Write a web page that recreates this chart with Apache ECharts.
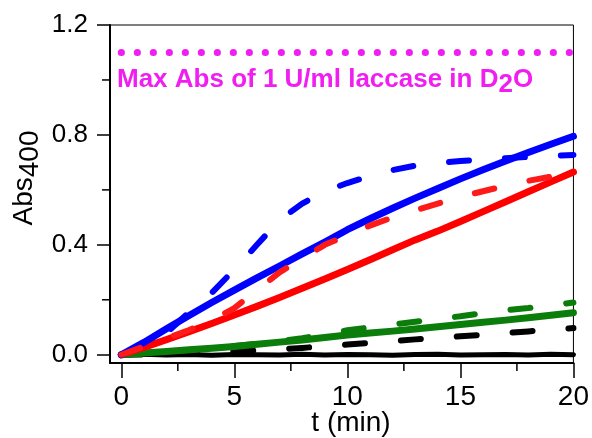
<!DOCTYPE html>
<html>
<head>
<meta charset="UTF-8">
<title>Abs400 vs t</title>
<script src="https://cdn.jsdelivr.net/npm/echarts@6/dist/echarts.min.js"></script>
<style>
  html, body { margin: 0; padding: 0; background: #fff; }
</style>
</head>
<body>
<div id="chart" style="width:592px;height:438px;"></div>
<script type="text/javascript">
// time (min)
var times = [0, 1, 2, 3, 4, 5, 6, 7, 8, 9, 10, 11, 12, 13, 14, 15, 16, 17, 18, 19, 20];

// Abs400
var blueSolid  = [0, 0.045, 0.095, 0.143, 0.19, 0.235, 0.28, 0.323, 0.367, 0.41, 0.455, 0.495, 0.533, 0.57, 0.605, 0.64, 0.673, 0.705, 0.736, 0.766, 0.795];
var blueDashed = [0, 0.04, 0.08, 0.155, 0.225, 0.31, 0.40, 0.49, 0.55, 0.595, 0.625, 0.65, 0.672, 0.688, 0.698, 0.705, 0.71, 0.715, 0.72, 0.724, 0.727];
var redSolid   = [0, 0.027, 0.055, 0.084, 0.114, 0.145, 0.176, 0.208, 0.242, 0.276, 0.31, 0.346, 0.382, 0.418, 0.45, 0.485, 0.521, 0.557, 0.593, 0.629, 0.665];
var redDashed  = [0, 0.03, 0.06, 0.09, 0.125, 0.17, 0.235, 0.30, 0.35, 0.40, 0.435, 0.47, 0.50, 0.525, 0.55, 0.575, 0.595, 0.615, 0.633, 0.648, 0.66];
var greenSolid = [0, 0.006, 0.012, 0.018, 0.024, 0.03, 0.038, 0.046, 0.054, 0.063, 0.072, 0.079, 0.086, 0.094, 0.102, 0.11, 0.118, 0.126, 0.135, 0.144, 0.153];
var greenDashed = [0, 0.005, 0.01, 0.017, 0.025, 0.032, 0.04, 0.05, 0.06, 0.075, 0.089, 0.1, 0.11, 0.12, 0.131, 0.14, 0.152, 0.162, 0.17, 0.18, 0.19];
var blackDashed = [0, 0.001, 0.003, 0.005, 0.008, 0.011, 0.016, 0.02, 0.025, 0.031, 0.037, 0.043, 0.05, 0.056, 0.062, 0.067, 0.073, 0.079, 0.085, 0.091, 0.097];
var blackSolid = [0, 0.002, -0.001, 0.001, -0.002, 0.001, 0, -0.001, 0.002, -0.001, 0.001, 0, -0.002, 0.001, 0.002, -0.001, 0, 0.001, -0.001, 0.002, 0];

// max abs reference level
var maxAbsTimes = [0, 20];
var maxAbsValue = 1.1;

// ticks
var xMajor = [0, 5, 10, 15, 20];
var xMinor = [2.5, 7.5, 12.5, 17.5];
var yMajor = [0, 0.4, 0.8, 1.2];
var yMinor = [0.2, 0.6, 1.0];

var X_MIN = -0.5, X_MAX = 20;
var Y_MIN = -0.03, Y_MAX = 1.2;

var FONT = 'Arial, "Liberation Sans", sans-serif';
var MAGENTA = '#f01ef0';

function pairs(xs, ys) {
  var out = [];
  for (var i = 0; i < xs.length; i++) {
    out.push([xs[i], ys[i]]);
  }
  return out;
}

function curve(data, color, dashed, width) {
  return {
    type: 'line',
    data: pairs(times, data),
    showSymbol: false,
    symbol: 'none',
    smooth: false,
    silent: true,
    lineStyle: {
      color: color,
      width: width,
      type: dashed ? [20, 36] : 'solid',
      cap: 'round',
      join: 'round'
    }
  };
}

// minor ticks drawn through the axis scale (custom series)
function minorTicks(values, isX) {
  var data = [];
  for (var i = 0; i < values.length; i++) {
    data.push(isX ? [values[i], Y_MIN] : [X_MIN, values[i]]);
  }
  return {
    type: 'custom',
    silent: true,
    clip: false,
    z: 10,
    data: data,
    renderItem: function (params, api) {
      var p = api.coord([api.value(0), api.value(1)]);
      var shape = isX
        ? { x1: p[0], y1: p[1], x2: p[0], y2: p[1] + 8 }
        : { x1: p[0] - 8, y1: p[1], x2: p[0], y2: p[1] };
      return { type: 'line', shape: shape, style: { stroke: '#000', lineWidth: 1.5 } };
    }
  };
}

var myChart = echarts.init(document.getElementById('chart'), null, { renderer: 'canvas' });

var option = {
  animation: false,
  backgroundColor: '#fff',
  grid: {
    left: 110,
    top: 25,
    width: 465,
    height: 338,
    show: true,
    borderColor: '#000',
    borderWidth: 1,
    backgroundColor: 'transparent'
  },
  xAxis: {
    type: 'value',
    position: 'bottom',
    min: X_MIN,
    max: X_MAX,
    axisLine: { show: true, onZero: false, lineStyle: { color: '#000', width: 2 } },
    axisTick: { show: true, customValues: xMajor, length: 15, lineStyle: { color: '#000', width: 1.5 } },
    axisLabel: { show: true, customValues: xMajor, color: '#000', fontSize: 28, fontFamily: FONT, margin: 20 },
    splitLine: { show: false }
  },
  yAxis: {
    type: 'value',
    position: 'left',
    min: Y_MIN,
    max: Y_MAX,
    axisLine: { show: true, onZero: false, lineStyle: { color: '#000', width: 2 } },
    axisTick: { show: true, customValues: yMajor, length: 13, lineStyle: { color: '#000', width: 1.5 } },
    axisLabel: {
      show: true, customValues: yMajor, color: '#000', fontSize: 26, fontFamily: FONT, margin: 22,
      formatter: function (v) { return v.toFixed(1); }
    },
    splitLine: { show: false }
  },
  series: [
    curve(blackSolid, '#000', false, 5),
    curve(blackDashed, '#000', true, 6),
    curve(greenDashed, '#0a7d0a', true, 6),
    curve(greenSolid, '#0a7d0a', false, 7),
    curve(redSolid, '#ff0000', false, 7),
    curve(blueDashed, '#0000ff', true, 6),
    curve(blueSolid, '#0000ff', false, 7),
    curve(redDashed, '#ff1a1a', true, 6),
    {
      type: 'line',
      data: pairs(maxAbsTimes, [maxAbsValue, maxAbsValue]),
      showSymbol: false,
      symbol: 'none',
      silent: true,
      lineStyle: { color: MAGENTA, width: 7, type: [0.1, 15.9], cap: 'round' }
    },
    minorTicks(xMinor, true),
    minorTicks(yMinor, false)
  ],
  graphic: [{
    type: 'text',
    x: 117,
    y: 80,
    silent: true,
    style: {
      text: '{a|Max Abs of 1 U/ml laccase in D}{s|2}{a|O}',
      align: 'left',
      verticalAlign: 'middle',
      rich: {
        a: { fontSize: 26, fontWeight: 'bold', fontFamily: FONT, fill: MAGENTA, lineHeight: 36 },
        s: { fontSize: 26, fontWeight: 'bold', fontFamily: FONT, fill: MAGENTA, lineHeight: 22, verticalAlign: 'bottom' }
      }
    }
  }, {
    type: 'text',
    x: 24,
    y: 178,
    rotation: Math.PI / 2,
    silent: true,
    style: {
      text: '{a|Abs}{s|400}',
      align: 'center',
      verticalAlign: 'middle',
      rich: {
        a: { fontSize: 28, fontFamily: FONT, fill: '#000', lineHeight: 40 },
        s: { fontSize: 28, fontFamily: FONT, fill: '#000', lineHeight: 24, verticalAlign: 'bottom' }
      }
    }
  }, {
    type: 'text',
    x: 351,
    y: 423,
    silent: true,
    style: {
      text: 't (min)',
      align: 'center',
      verticalAlign: 'middle',
      fontSize: 28,
      fontFamily: FONT,
      fill: '#000'
    }
  }]
};

myChart.setOption(option);
</script>
</body>
</html>
